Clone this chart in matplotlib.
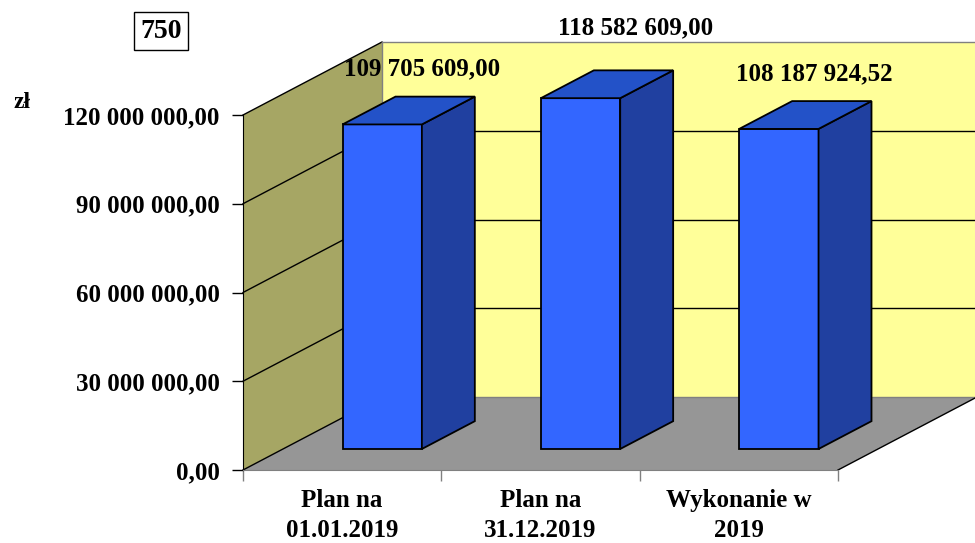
import matplotlib.pyplot as plt
from matplotlib.patches import Polygon
from matplotlib.ticker import FuncFormatter

# data
categories = ['Plan na\n01.01.2019', 'Plan na\n31.12.2019', 'Wykonanie w\n2019']
values = [109705609.00, 118582609.00, 108187924.52]
value_labels = ['109 705 609,00', '118 582 609,00', '108 187 924,52']
yticks = [0, 30e6, 60e6, 90e6, 120e6]

plt.rcParams['font.family'] = ['Liberation Serif', 'DejaVu Serif']
plt.rcParams['font.weight'] = 'bold'

fig = plt.figure(figsize=(9.75, 5.43), dpi=100)
W, H = 975, 543
# front plane of the pseudo-3d box
ax = fig.add_axes([243 / W, 73 / H, 595 / W, 355 / H])
ax.set_xlim(0, 3)
ax.set_ylim(0, 120e6)

# depth offsets in data units
DX = 139 / (595 / 3)
DY = 73 * 120e6 / 355
f0, f1 = 0.288, 0.669   # bar front/back depth fractions
bw = 0.4

def poly(pts, fc, ec='none', lw=0, z=1):
    ax.add_patch(Polygon(pts, closed=True, facecolor=fc, edgecolor=ec,
                         linewidth=lw, zorder=z, clip_on=False))

ymax = yticks[-1]
# walls and floor
poly([(0, 0), (3, 0), (3 + DX, DY), (DX, DY)], '#969696')
poly([(0, 0), (DX, DY), (DX, ymax + DY), (0, ymax)], '#A6A664')
poly([(DX, DY), (3 + DX, DY), (3 + DX, ymax + DY), (DX, ymax + DY)], '#FFFF99')

# gridlines
for v in yticks:
    ax.plot([0, DX], [v, v + DY], color='black', lw=1, zorder=2, clip_on=False)
    if v > 0 and v < ymax:
        ax.plot([DX, 3 + DX], [v + DY, v + DY], color='black', lw=1,
                zorder=2, clip_on=False)
ax.plot([DX, 3 + DX], [ymax + DY, ymax + DY], color='#808080', lw=1,
        zorder=2, clip_on=False)
ax.plot([DX, DX], [DY, ymax + DY], color='#808080', lw=1, zorder=2, clip_on=False)
ax.plot([DX, 3 + DX], [DY, DY], color='#808080', lw=1, zorder=2, clip_on=False)
ax.plot([3, 3 + DX], [0, DY], color='black', lw=1, zorder=2, clip_on=False)

# bars
label_off = [(-13, 28), (2, 43), (-18, 27)]
for i, v in enumerate(values):
    x0 = i + 0.5 - bw / 2 + f0 * DX
    x1 = x0 + bw
    y0 = f0 * DY
    ddx = (f1 - f0) * DX
    ddy = (f1 - f0) * DY
    poly([(x0, y0), (x1, y0), (x1, y0 + v), (x0, y0 + v)], '#3366FF',
         'black', 1.3, 5)
    poly([(x1, y0), (x1 + ddx, y0 + ddy), (x1 + ddx, y0 + v + ddy),
          (x1, y0 + v)], '#2040A0', 'black', 1.3, 5)
    poly([(x0, y0 + v), (x1, y0 + v), (x1 + ddx, y0 + v + ddy),
          (x0 + ddx, y0 + v + ddy)], '#2352C8', 'black', 1.3, 5)
    ax.annotate(value_labels[i], (i + 0.5 + f1 * DX, v + f1 * DY),
                xytext=label_off[i], textcoords='offset pixels',
                ha='center', va='center', fontsize=18, fontweight='bold',
                zorder=6, annotation_clip=False)

# category labels under the front edge
for i, c in enumerate(categories):
    ax.annotate(c, (i + 0.5, 0), xytext=(0, -19), textcoords='offset pixels',
                ha='center', va='top', fontsize=18, fontweight='bold',
                linespacing=1.4, annotation_clip=False)

# axes styling
for s in ['top', 'right']:
    ax.spines[s].set_visible(False)
ax.spines['left'].set_color('black')
ax.spines['left'].set_zorder(3)
ax.spines['bottom'].set_color('#808080')
ax.spines['bottom'].set_zorder(3)
ax.set_facecolor('none')
ax.set_yticks(yticks)
ax.yaxis.set_major_formatter(FuncFormatter(
    lambda v, p: f'{v:,.2f}'.replace(',', ' ').replace('.', ',')))
ax.tick_params(axis='y', length=8, width=1, labelsize=18, pad=9)
ax.set_xticks([0, 1, 2, 3])
ax.set_xticklabels([])
ax.tick_params(axis='x', which='major', length=8, width=1, color='#808080')
for lab in ax.get_yticklabels():
    lab.set_fontweight('bold')

fig.text(14 / W, 1 - 103 / H, 'zł', fontsize=17, fontweight='bold',
         ha='left', va='center')
fig.text(161 / W, 1 - 31 / H, '750', fontsize=20, fontweight='bold',
         ha='center', va='center',
         bbox=dict(boxstyle='square,pad=0.22', facecolor='white',
                   edgecolor='black', linewidth=1))

fig.savefig('out.png', dpi=100)
